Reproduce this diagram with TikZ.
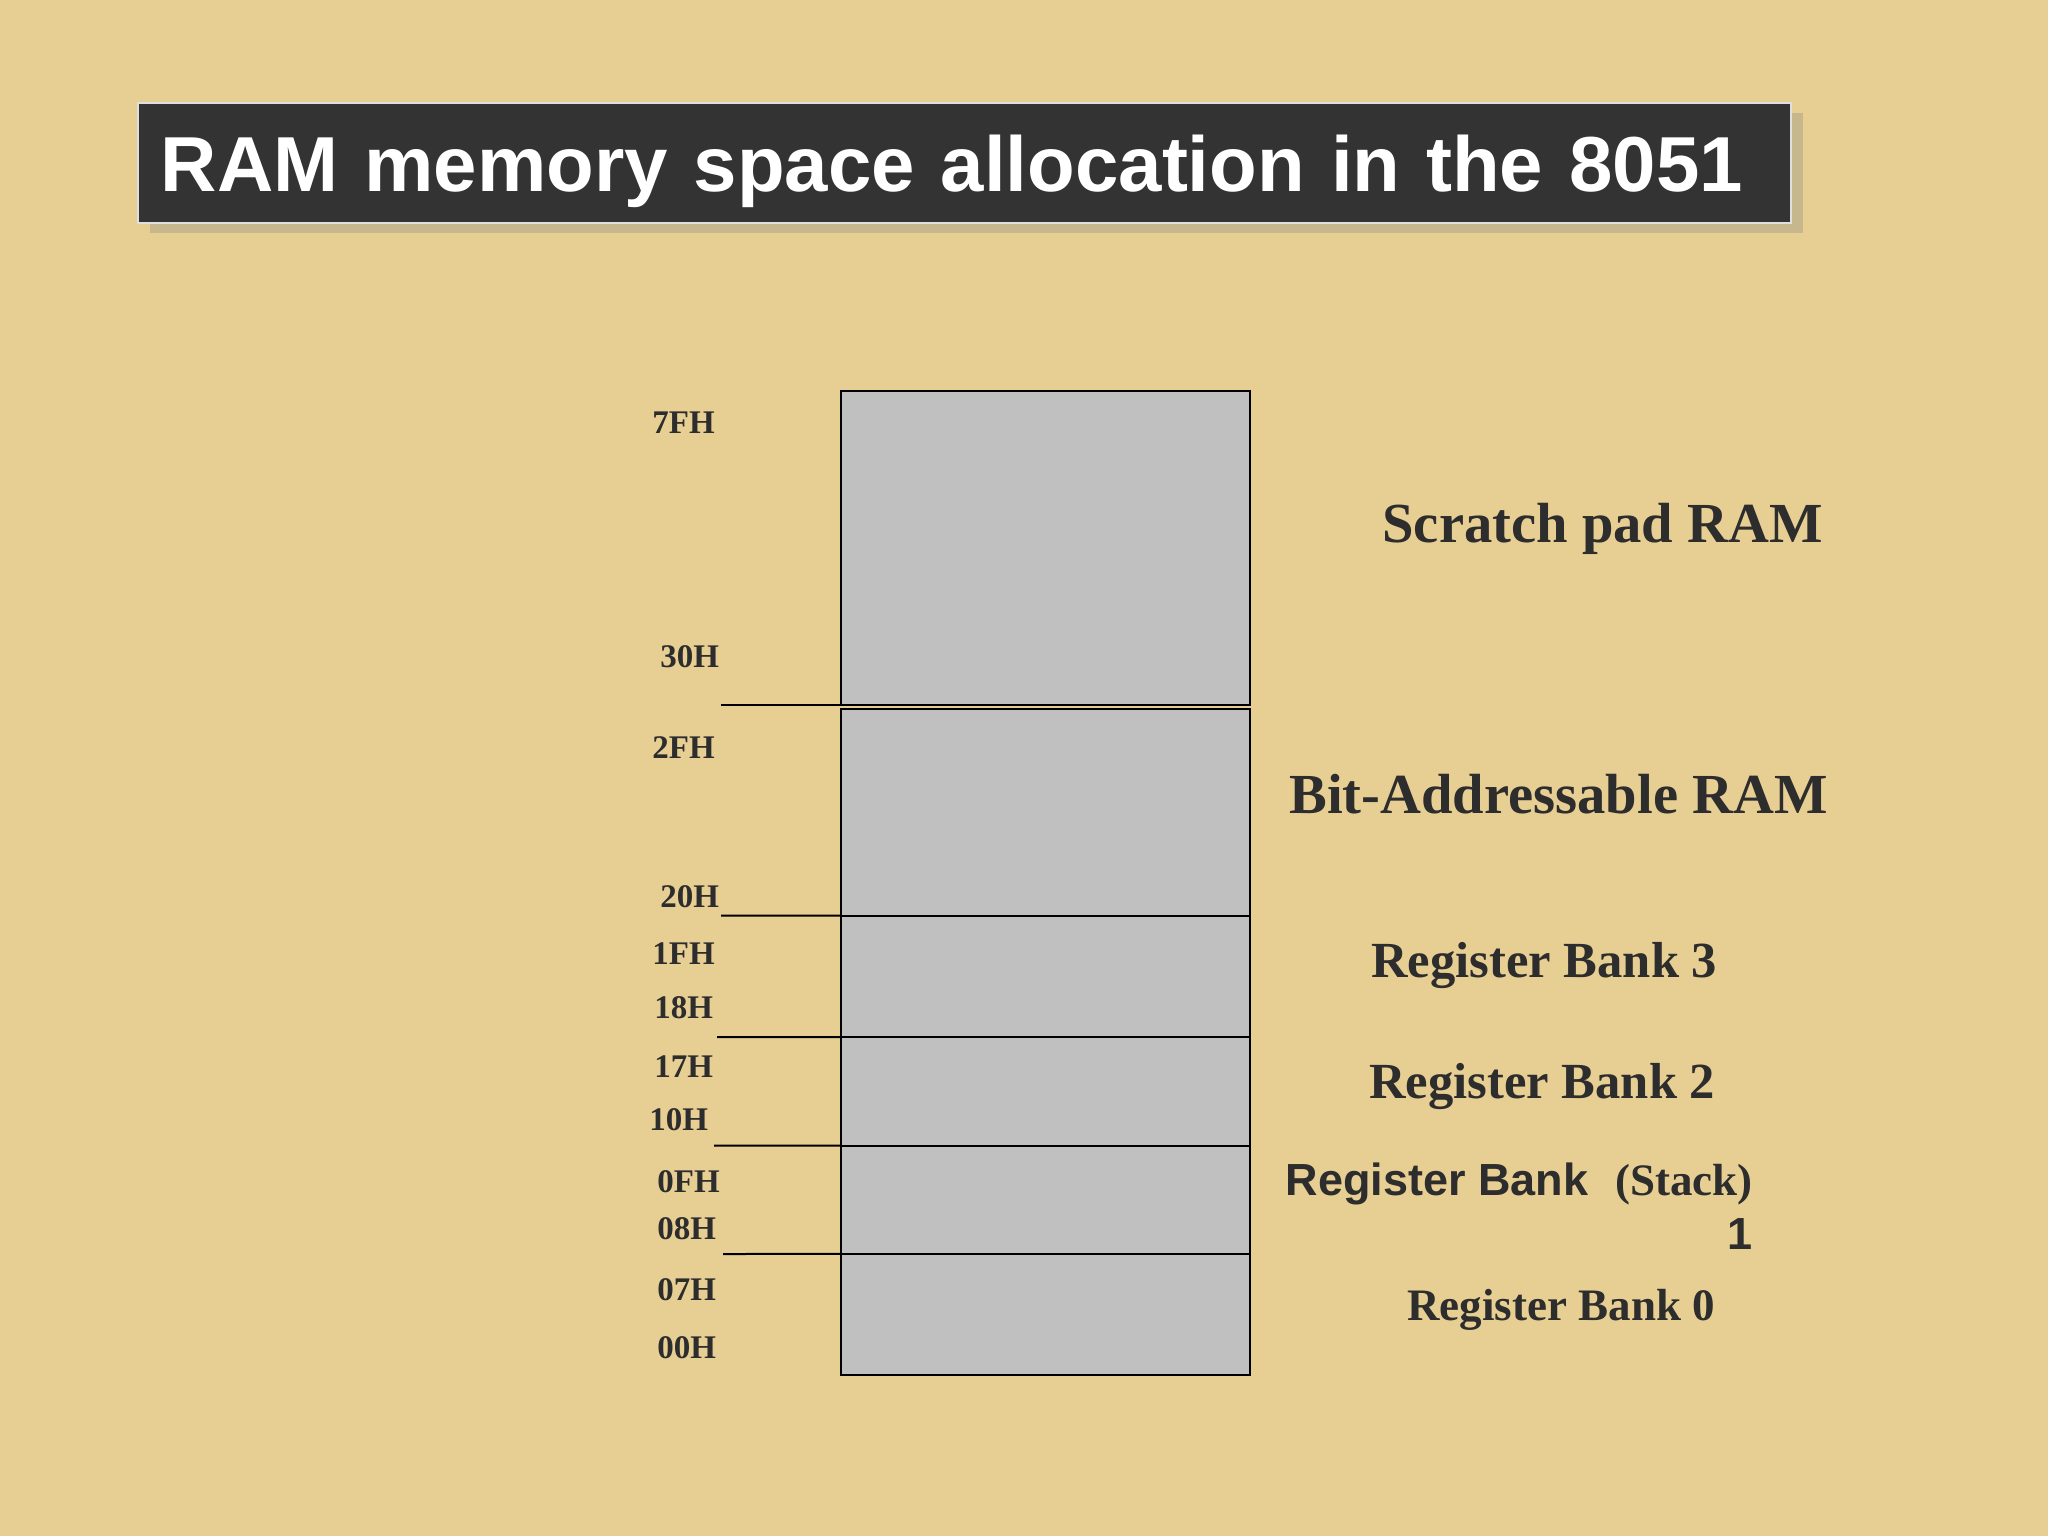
\documentclass[tikz,border=0pt]{standalone}
\usepackage{fontspec}
\setmainfont{Liberation Serif}
\setsansfont{Liberation Sans}
\usetikzlibrary{positioning, shadows}
\definecolor{papyrus}{RGB}{231,207,148}
\definecolor{slate}{RGB}{51,51,51}
\definecolor{cellgray}{RGB}{192,192,192}
\definecolor{inkgray}{RGB}{45,45,45}
\tikzset{
  titlebar/.style={
    draw=gray!25,
    line width=0.8pt,
    fill=slate,
    text=white,
    anchor=west,
    minimum height=60pt,
    text width=803.5pt,
    text depth=0pt,
    inner xsep=11.5pt,
    align=left,
    font=\sffamily\bfseries\fontsize{39}{47}\selectfont,
    drop shadow={shadow xshift=6pt, shadow yshift=-5pt, opacity=0.3}
  },
  cell/.style={
    draw=black,
    line width=1pt,
    fill=cellgray,
    minimum width=204.5pt,
    inner sep=0pt,
    outer sep=0pt
  },
  addr/.style={
    anchor=base west,
    inner sep=0pt,
    text=inkgray,
    font=\bfseries\fontsize{16.5}{19}\selectfont
  },
  region/.style={
    anchor=base west,
    inner sep=0pt,
    text=inkgray
  },
  tick/.style={line width=1pt}
}

\begin{document}
\begin{tikzpicture}[x=0.5pt, y=-0.5pt]
        \fill[papyrus] (0,0) rectangle (2048,1536);
        \useasboundingbox (0,0) rectangle (2048,1536);

        \node[titlebar] (title) at (137,163) {RAM memory space allocation in the 8051};

        % memory map, top to bottom
        \node[cell, minimum height=157.4pt] (scratch) at (1045.5,547.9) {};
        \node[cell, minimum height=103.2pt, below=1.95pt of scratch] (bitram) {};
        \node[cell, minimum height=60.7pt, below=0pt of bitram] (bank3) {};
        \node[cell, minimum height=54.25pt, below=0pt of bank3] (bank2) {};
        \node[cell, minimum height=54.2pt, below=0pt of bank2] (bank1) {};
        \node[cell, minimum height=60.7pt, below=0pt of bank1] (bank0) {};

        \coordinate (t30) at (721,705.3);
        \coordinate (t20) at (721,915.6);
        \coordinate (t18) at (717,1037);
        \coordinate (t10) at (714,1145.5);
        \coordinate (t08) at (723,1254);
        \draw[tick] (t30) -- (scratch.south west);
        \draw[tick] (t20) -- (bitram.south west);
        \draw[tick] (t18) -- (bank3.south west);
        \draw[tick] (t10) -- (bank2.south west);
        \draw[tick] (t08) -- (bank1.south west);

        \node[addr] (a7f) at (652,433) {7FH};
        \node[addr] (a30) at (660,667) {30H};
        \node[addr] (a2f) at (652,758) {2FH};
        \node[addr] (a20) at (660,907) {20H};
        \node[addr] (a1f) at (652,964) {1FH};
        \node[addr] (a18) at (654,1018) {18H};
        \node[addr] (a17) at (654,1077) {17H};
        \node[addr] (a10) at (649,1130) {10H};
        \node[addr] (a0f) at (657,1192) {0FH};
        \node[addr] (a08) at (657,1239) {08H};
        \node[addr] (a07) at (657,1300) {07H};
        \node[addr] (a00) at (657,1358) {00H};

        \node[region, font=\bfseries\fontsize{28.3}{34}\selectfont] (scratchlbl) at (1382,542) {Scratch pad RAM};
        \node[region, font=\bfseries\fontsize{28.3}{34}\selectfont] (bitlbl) at (1289,813) {Bit-Addressable RAM};
        \node[region, font=\bfseries\fontsize{25.3}{30}\selectfont] (bank3lbl) at (1371,977) {Register Bank 3};
        \node[region, font=\bfseries\fontsize{25.3}{30}\selectfont] (bank2lbl) at (1369,1098) {Register Bank 2};
        \node[region, anchor=base east, align=right, font=\bfseries\fontsize{22.5}{27}\selectfont] (bank1lbl) at (1753,1249)
          {{\sffamily Register Bank}\hspace{13.5pt}(Stack)\\{\sffamily 1}};
        \node[region, font=\bfseries\fontsize{22.5}{27}\selectfont] (bank0lbl) at (1407,1320) {Register Bank 0};
      \end{tikzpicture}
\end{document}
